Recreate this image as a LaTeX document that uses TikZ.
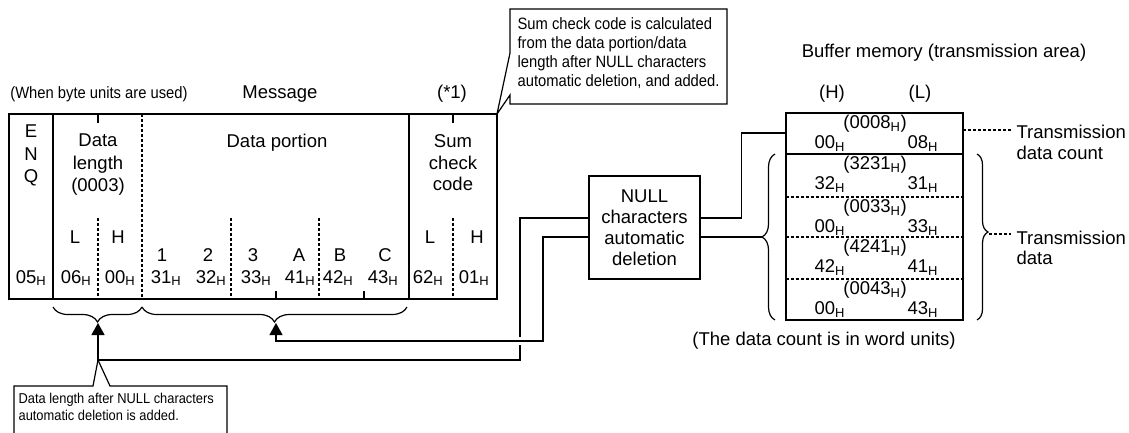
\documentclass[tikz,border=0pt]{standalone}
\usepackage{fontspec}
\setmainfont{Liberation Sans}
\newfontfamily\narrowfont[FakeStretch=0.9]{Liberation Sans}
\usetikzlibrary{arrows.meta,decorations.pathreplacing}
\newcommand{\hx}[1]{#1\textsubscript{H}}
\tikzset{
	txt/.style={font=\fontsize{18.5}{21.5}\selectfont,inner sep=0pt,anchor=base},
	lbl/.style={font=\fontsize{18.5}{22.5}\selectfont,inner sep=0pt,align=center},
	note/.style={font=\narrowfont\fontsize{16.4}{19}\selectfont,inner sep=0pt,align=left,anchor=north west},
	dashline/.style={dash pattern=on 3pt off 2pt},
	brc/.style={decorate,decoration={brace,amplitude=#1}},
	brcm/.style={decorate,decoration={brace,mirror,amplitude=#1}},
	uparrow/.style={-{Triangle[width=13pt,length=12pt]}},
	nullbox/.style={draw,minimum width=111pt,minimum height=103pt,inner sep=0pt,align=center,font=\fontsize{18.5}{21}\selectfont}
}
\begin{document}
\begin{tikzpicture}[x=1pt,y=-1pt,line width=1.2pt]
	\useasboundingbox (0,0) rectangle (1129,432);
	\draw (9,114) rectangle (497,299);
	\draw (53,114) -- (53,299);
	\draw (409,114) -- (409,299);
	\draw[dashline] (142,114) -- (142,299);
	\foreach \x in {98,231,319,453} \draw[dashline] (\x,218) -- (\x,299);
	\foreach \x in {98,453} \draw (\x,114) -- (\x,123);
	\foreach \x in {276,364} \draw (\x,291) -- (\x,299);
	\node[txt,font=\narrowfont\fontsize{16.4}{19}\selectfont] (bytes) at (99,98) {(When byte units are used)};
	\node[txt] (msg) at (280,98) {Message};
	\node[txt] (star) at (452,98) {(*1)};
	\node[lbl] (enq) at (31,155.6) {E\\N\\Q};
	\node[lbl] (dlen) at (98,165) {Data\\length\\(0003)};
	\node[txt] (dpor) at (277,147) {Data portion};
	\node[lbl,font=\fontsize{18.5}{21.5}\selectfont] (sum) at (453,163) {Sum\\check\\code};
	\node[txt] (dl) at (75,243) {L};
	\node[txt] (dh) at (118,243) {H};
	\node[txt] (sl) at (430,243) {L};
	\node[txt] (sh) at (477,243) {H};
	\foreach \c/\x in {1/162,2/208,3/253,A/299,B/340,C/385}
		\node[txt] (ch\c) at (\x,261) {\c};
	\foreach \v/\x in {05/31,06/76,00/120,31/166,32/211,33/256,41/300,42/338,43/383,62/428,01/474}
		\node[txt] (hx\x) at (\x,283) {\hx{\v}};
	\draw (497,114) -- (510,53) -- (510,9) -- (727,9) -- (727,104) -- (510,104) -- (510,95) -- cycle;
	\node[note] (sumnote) at (517,17) {Sum check code is calculated\\from the data portion/data\\length after NULL characters\\automatic deletion, and added.};
	\draw[brcm=15pt] (53,307) -- (142,307);
	\draw[brcm=15pt] (142,307) -- (407,307);
	\coordinate (t1) at (98,323);
	\coordinate (t2) at (276,323);
	\coordinate (j1) at (98,360);
	\coordinate (j2) at (276,341);
	\coordinate (k1) at (520,360);
	\coordinate (k2) at (543,341);
	\node[nullbox] (null) at (644.5,227.5) {NULL\\characters\\automatic\\deletion};
	\draw[uparrow] ([yshift=9.5pt]null.west) -| (k1) -- (j1) -- (t1);
	\draw[white,line width=8pt] (k2) -- (j2);
	\draw[uparrow] ([yshift=-9.5pt]null.west) -| (k2) -- (j2) -- (t2);
	\draw (j1) -- (110,386) -- (227,386) -- (227,433);
	\draw (j1) -- (93,386) -- (14,386) -- (14,433);
	\node[note,font=\narrowfont\fontsize{14.3}{17}\selectfont] (lennote) at (18,393) {Data length after NULL characters\\automatic deletion is added.};
	\node[txt] (bufttl) at (944,57) {Buffer memory (transmission area)};
	\node[txt] (colh) at (832,98) {(H)};
	\node[txt] (coll) at (920,98) {(L)};
	\draw (786,113) rectangle (963,320);
	\draw (786,154) -- (963,154);
	\foreach \y in {197,237,279} \draw[dashline] (786,\y) -- (963,\y);
	\foreach \t/\h/\l/\p [count=\i] in {113/00/08/0008,154/32/31/3231,197/00/33/0033,237/42/41/4241,279/00/43/0043} {
		\node[txt] (w\i) at (875,{\t+15.5}) {(\hx{\p})};
		\node[txt,anchor=base west] (h\i) at (814,{\t+35.5}) {\hx{\h}};
		\node[txt,anchor=base west] (l\i) at (907,{\t+35.5}) {\hx{\l}};
	}
	\coordinate (buf) at (786,133);
	\draw ([yshift=9.5pt]null.east) -- ++(41,0) |- (buf);
	\draw[brcm=13pt] (775,154) -- (775,320);
	\coordinate (lb) at (762,237);
	\draw ([yshift=-9.5pt]null.east) -- (lb);
	\draw[decorate,decoration={brace,amplitude=11pt,aspect=0.47}] (977,154) -- (977,320);
	\node[lbl,align=left,anchor=north west,font=\fontsize{18.5}{21}\selectfont] (tcnt) at (1016,124) {Transmission\\data count};
	\node[lbl,align=left,anchor=north west,font=\fontsize{18.5}{20}\selectfont] (tdat) at (1016,230) {Transmission\\data};
	\coordinate (tc) at (963,130);
	\coordinate (tci) at (1011,130);
	\coordinate (rb) at (989,234);
	\coordinate (tdi) at (1011,234);
	\draw[dashline] (tc) -- (tci);
	\draw[dashline] (rb) -- (tdi);
	\node[txt] (unit) at (824,345) {(The data count is in word units)};
\end{tikzpicture}
\end{document}
